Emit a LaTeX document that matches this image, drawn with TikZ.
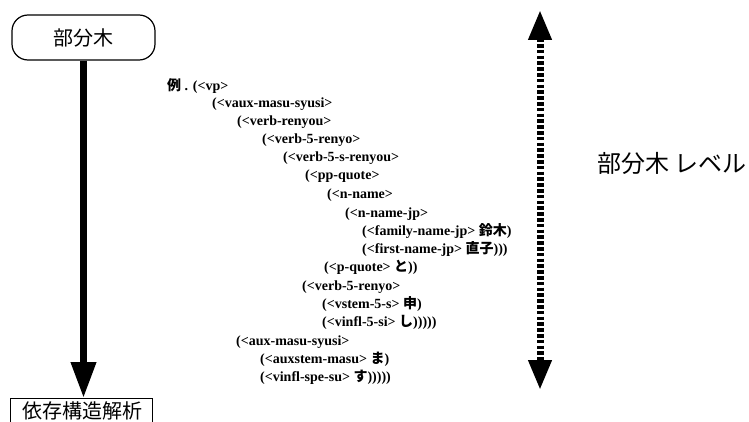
\documentclass[tikz,border=0pt]{standalone}
\usepackage{fontspec}
\setmainfont{Liberation Serif}
\newfontfamily\jp{Noto Sans CJK JP}
\usetikzlibrary{arrows.meta}
\tikzset{
  code/.style={anchor=base west, inner sep=0pt, font=\fontsize{14}{14}\selectfont\bfseries},
  bigarrow/.style={line width=7pt, -{Triangle[width=24pt,length=36pt]}},
  levelarrow/.style={line width=7pt, dash pattern=on 3.5pt off 2.3pt, {Triangle[width=22pt,length=30pt]}-{Triangle[width=22pt,length=30pt]}}
}
\newcommand{\jb}[1]{{\jp\bfseries #1}}
\begin{document}
\begin{tikzpicture}[x=1pt,y=-1pt]
\useasboundingbox (0,0) rectangle (749,422);
% left boxes
\node[draw, line width=1.2pt, rounded corners=16pt, minimum width=143pt, minimum height=45pt, font=\jp\fontsize{20}{20}\selectfont] (sub) at (83.5,37.5) {部分木};
\node[draw, line width=1.2pt, minimum width=142pt, minimum height=40pt, anchor=north west] (dep) at (10,398) {};
\node[font=\jp\fontsize{20}{20}\selectfont, inner sep=0pt] (deplabel) at (82,411) {依存構造解析};
\draw[bigarrow] (sub.south) -- (sub.south |- dep.north);
% level arrow
\coordinate (lt) at (540,10);
\coordinate (lb) at (540,390);
\draw[levelarrow] (lt) -- (lb);
\node[anchor=west, font=\jp\fontsize{24}{24}\selectfont] (lvl) at (594,163) {部分木 レベル};
% code lines
\node[code] (c0) at (167,91) {\jb{例} . (<vp>};
\node[code] (c1) at (212,108) {(<vaux-masu-syusi>};
\node[code] (c2) at (237,126) {(<verb-renyou>};
\node[code] (c3) at (262,144) {(<verb-5-renyo>};
\node[code] (c4) at (283,162) {(<verb-5-s-renyou>};
\node[code] (c5) at (305,180) {(<pp-quote>};
\node[code] (c6) at (327,198) {(<n-name>};
\node[code] (c7) at (345,217) {(<n-name-jp>};
\node[code] (c8) at (362,235) {(<family-name-jp> \jb{鈴木})};
\node[code] (c9) at (362,253) {(<first-name-jp> \jb{直子})))};
\node[code] (c10) at (324,271) {(<p-quote> \jb{と}))};
\node[code] (c11) at (302,290) {(<verb-5-renyo>};
\node[code] (c12) at (322,308) {(<vstem-5-s> \jb{申})};
\node[code] (c13) at (322,326) {(<vinfl-5-si> \jb{し})))))};
\node[code] (c14) at (236,345) {(<aux-masu-syusi>};
\node[code] (c15) at (260,363) {(<auxstem-masu> \jb{ま})};
\node[code] (c16) at (260,381) {(<vinfl-spe-su> \jb{す})))))};
\end{tikzpicture}
\end{document}
